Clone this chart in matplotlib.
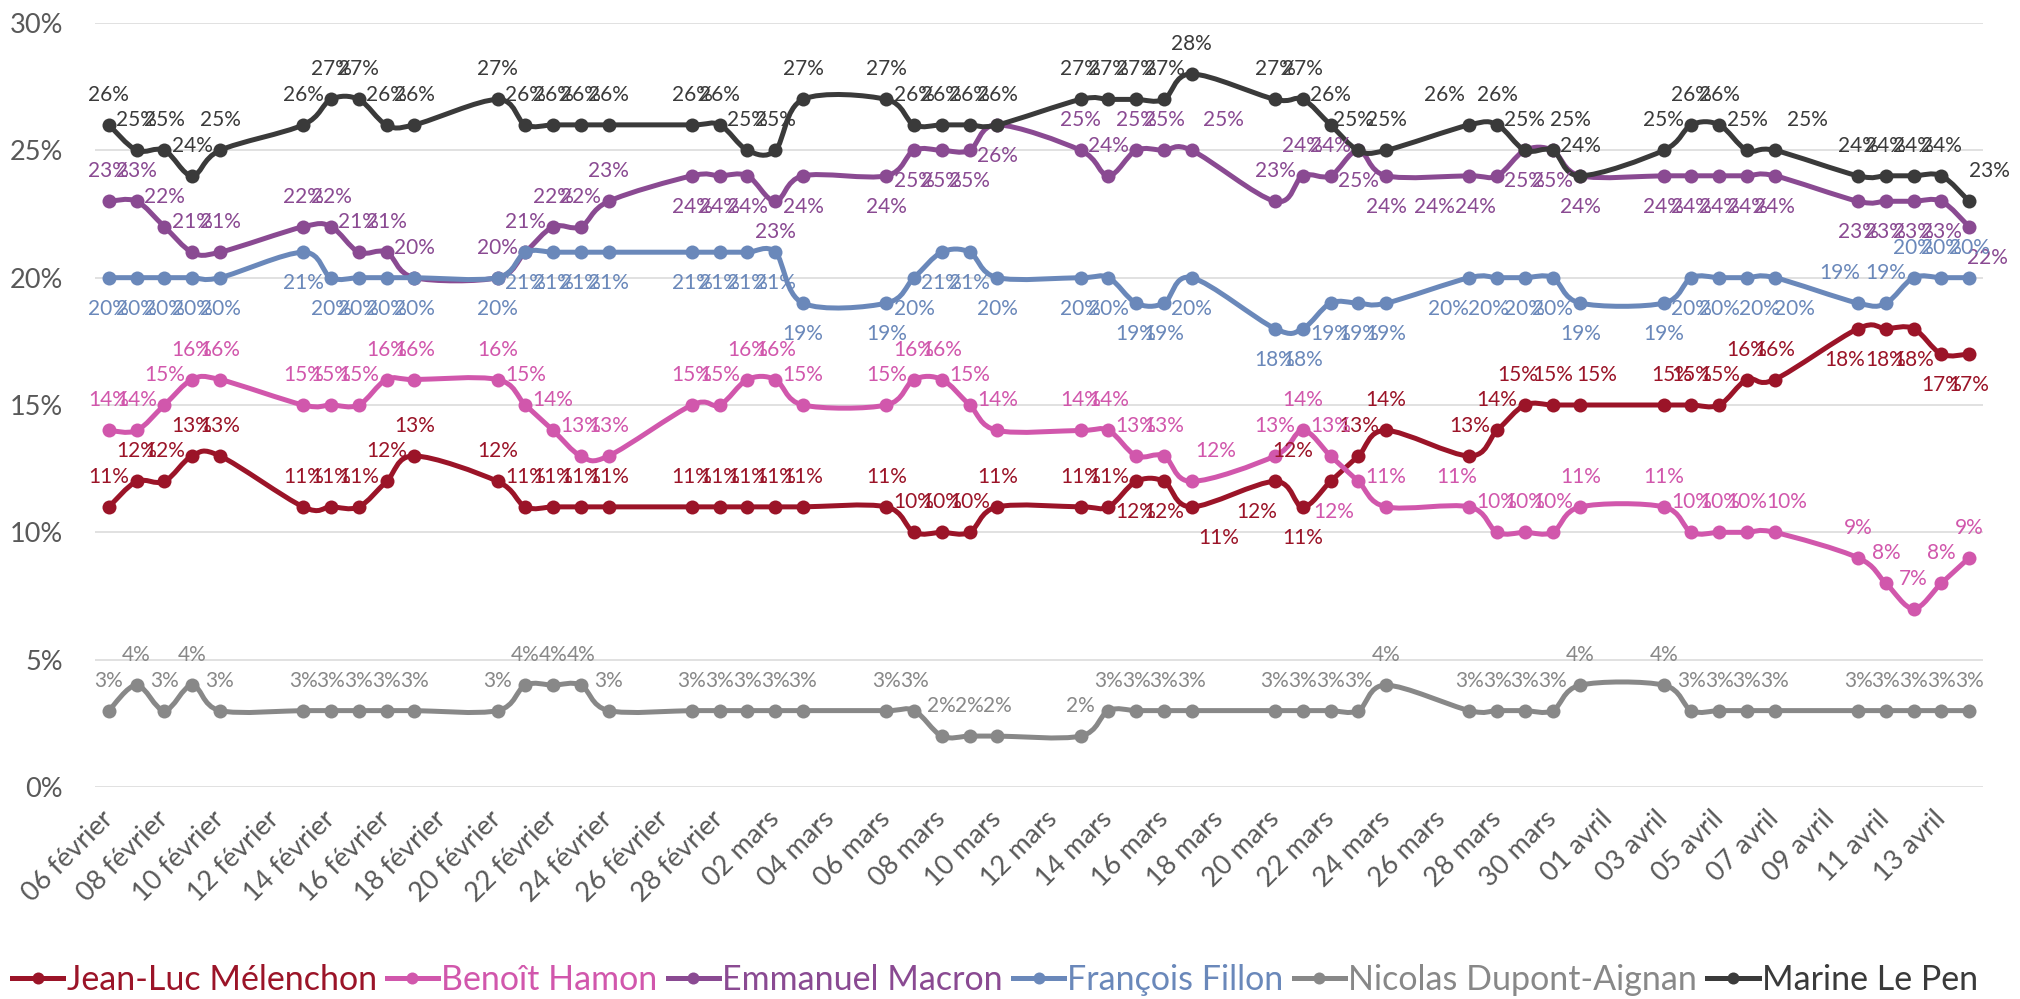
import matplotlib
matplotlib.use("Agg")
import matplotlib.pyplot as plt
from matplotlib.path import Path
from matplotlib.patches import PathPatch
from matplotlib.lines import Line2D

plt.rcParams['font.family'] = ['Lato', 'DejaVu Sans']

# poll days, counted from 06 fevrier (weekdays only)
days = [0, 1, 2, 3, 4, 7, 8, 9, 10, 11, 14, 15, 16, 17, 18, 21, 22, 23, 24, 25,
        28, 29, 30, 31, 32, 35, 36, 37, 38, 39, 42, 43, 44, 45, 46, 49, 50, 51, 52, 53,
        56, 57, 58, 59, 60, 63, 64, 65, 66, 67]

melenchon = [11, 12, 12, 13, 13, 11, 11, 11, 12, 13, 12, 11, 11, 11, 11, 11, 11, 11, 11, 11,
             11, 10, 10, 10, 11, 11, 11, 12, 12, 11, 12, 11, 12, 13, 14, 13, 14, 15, 15, 15,
             15, 15, 15, 16, 16, 18, 18, 18, 17, 17]
hamon = [14, 14, 15, 16, 16, 15, 15, 15, 16, 16, 16, 15, 14, 13, 13, 15, 15, 16, 16, 15,
         15, 16, 16, 15, 14, 14, 14, 13, 13, 12, 13, 14, 13, 12, 11, 11, 10, 10, 10, 11,
         11, 10, 10, 10, 10, 9, 8, 7, 8, 9]
macron = [23, 23, 22, 21, 21, 22, 22, 21, 21, 20, 20, 21, 22, 22, 23, 24, 24, 24, 23, 24,
          24, 25, 25, 25, 26, 25, 24, 25, 25, 25, 23, 24, 24, 25, 24, 24, 24, 25, 25, 24,
          24, 24, 24, 24, 24, 23, 23, 23, 23, 22]
fillon = [20, 20, 20, 20, 20, 21, 20, 20, 20, 20, 20, 21, 21, 21, 21, 21, 21, 21, 21, 19,
          19, 20, 21, 21, 20, 20, 20, 19, 19, 20, 18, 18, 19, 19, 19, 20, 20, 20, 20, 19,
          19, 20, 20, 20, 20, 19, 19, 20, 20, 20]
dupont = [3, 4, 3, 4, 3, 3, 3, 3, 3, 3, 3, 4, 4, 4, 3, 3, 3, 3, 3, 3,
          3, 3, 2, 2, 2, 2, 3, 3, 3, 3, 3, 3, 3, 3, 4, 3, 3, 3, 3, 4,
          4, 3, 3, 3, 3, 3, 3, 3, 3, 3]
lepen = [26, 25, 25, 24, 25, 26, 27, 27, 26, 26, 27, 26, 26, 26, 26, 26, 26, 25, 25, 27,
         27, 26, 26, 26, 26, 27, 27, 27, 27, 28, 27, 27, 26, 25, 25, 26, 26, 25, 25, 24,
         25, 26, 26, 25, 25, 24, 24, 24, 24, 23]

names = ["Jean-Luc Mélenchon", "Benoît Hamon", "Emmanuel Macron",
         "François Fillon", "Nicolas Dupont-Aignan", "Marine Le Pen"]

tick_labels = ["06 février", "08 février", "10 février", "12 février", "14 février",
               "16 février", "18 février", "20 février", "22 février", "24 février",
               "26 février", "28 février", "02 mars", "04 mars", "06 mars", "08 mars",
               "10 mars", "12 mars", "14 mars", "16 mars", "18 mars", "20 mars",
               "22 mars", "24 mars", "26 mars", "28 mars", "30 mars", "01 avril",
               "03 avril", "05 avril", "07 avril", "09 avril", "11 avril", "13 avril"]

colors = ["#9B1428", "#D157AC", "#8A4A92", "#6A88BA", "#888888", "#3A3A3A"]

# label side per point (a = above, b = below) and a few sideways nudges (px)
sides = [
    "aaaaa" * 5 + "aabbb" + "bbaaa" + "aaaaa" * 2 + "bbbbb",
    "aaaaa" * 6 + "aaaba" + "aaaaa" * 3,
    "aaaaa" * 3 + "bbbbb" * 2 + "aaaaa" + "aaabb" + "bbbbb" * 3,
    "bbbbb" * 9 + "aaaaa",
    "aaaaa" * 10,
    "aaaaa" * 10,
]
nudges = [
    {29: 27, 30: -18, 32: -38, 37: -7, 39: 16, 40: 8, 45: -13},
    {29: 24, 33: -25, 35: -13, 44: 12},
    {29: 32, 35: -35, 36: -22, 49: 18},
    {35: -21, 36: -9, 43: 12, 44: 20, 45: -18},
    {},
    {33: -5, 35: -25, 38: 18, 44: 33, 49: 20},
]

series = [melenchon, hamon, macron, fillon, dupont, lepen]


def smooth_path(x, y):
    # Bezier path through the points, like a spreadsheet "smoothed line"
    n = len(x)
    verts = [(x[0], y[0])]
    codes = [Path.MOVETO]
    for i in range(n - 1):
        i0 = max(i - 1, 0)
        i3 = min(i + 2, n - 1)
        c1 = (x[i] + (x[i + 1] - x[i0]) / 6, y[i] + (y[i + 1] - y[i0]) / 6)
        c2 = (x[i + 1] - (x[i3] - x[i]) / 6, y[i + 1] - (y[i3] - y[i]) / 6)
        verts += [c1, c2, (x[i + 1], y[i + 1])]
        codes += [Path.CURVE4] * 3
    return Path(verts, codes)


fig = plt.figure(figsize=(20.2, 9.99), dpi=100)
ax = fig.add_axes([95 / 2020, 1 - 787 / 999, (1983 - 95) / 2020, (787 - 23) / 999])

px = 0.72  # points per pixel at 100 dpi
for k, vals in enumerate(series):
    c = colors[k]
    patch = PathPatch(smooth_path(days, vals), facecolor="none", edgecolor=c,
                      lw=5 * px, capstyle="round", joinstyle="round", zorder=2 + k)
    ax.add_patch(patch)
    ax.plot(days, vals, "o", color=c, ms=14 * px, mew=0, zorder=2 + k)

for k, vals in enumerate(series):
    c = colors[k]
    for i, (d, v) in enumerate(zip(days, vals)):
        dy = 30 if sides[k][i] == "a" else -31
        dx = nudges[k].get(i, 0)
        ax.annotate(f"{v}%", (d, v), xytext=(dx * px, dy * px), textcoords="offset points",
                    ha="center", va="center", color=c, fontsize=15, zorder=20)

ax.set_xlim(-0.5, 67.5)
ax.set_ylim(0, 30)
ax.set_yticks(range(0, 31, 5))
ax.set_yticklabels([f"{t}%" for t in range(0, 31, 5)])
ax.set_xticks(range(0, 67, 2))
ax.set_xticklabels(tick_labels, rotation=45, ha="right", va="center", rotation_mode="anchor")
ax.tick_params(axis="both", length=0, labelcolor="#595959", labelsize=19.5)
ax.tick_params(axis="y", pad=23)
ax.tick_params(axis="x", pad=20)
ax.grid(axis="y", color="#D9D9D9", lw=1.1)
ax.set_axisbelow(True)
for s in ax.spines.values():
    s.set_visible(False)

handles = [Line2D([], [], color=c, lw=5 * px, marker="o", ms=12 * px, mew=0) for c in colors]
leg = fig.legend(handles, names, loc="center", bbox_to_anchor=(0.4926, 19 / 999), ncol=6,
                 frameon=False, fontsize=24.5, handlelength=1.5, handletextpad=0.1,
                 columnspacing=0.3, borderpad=0, labelcolor="linecolor")

fig.savefig("out.png", dpi=100)
